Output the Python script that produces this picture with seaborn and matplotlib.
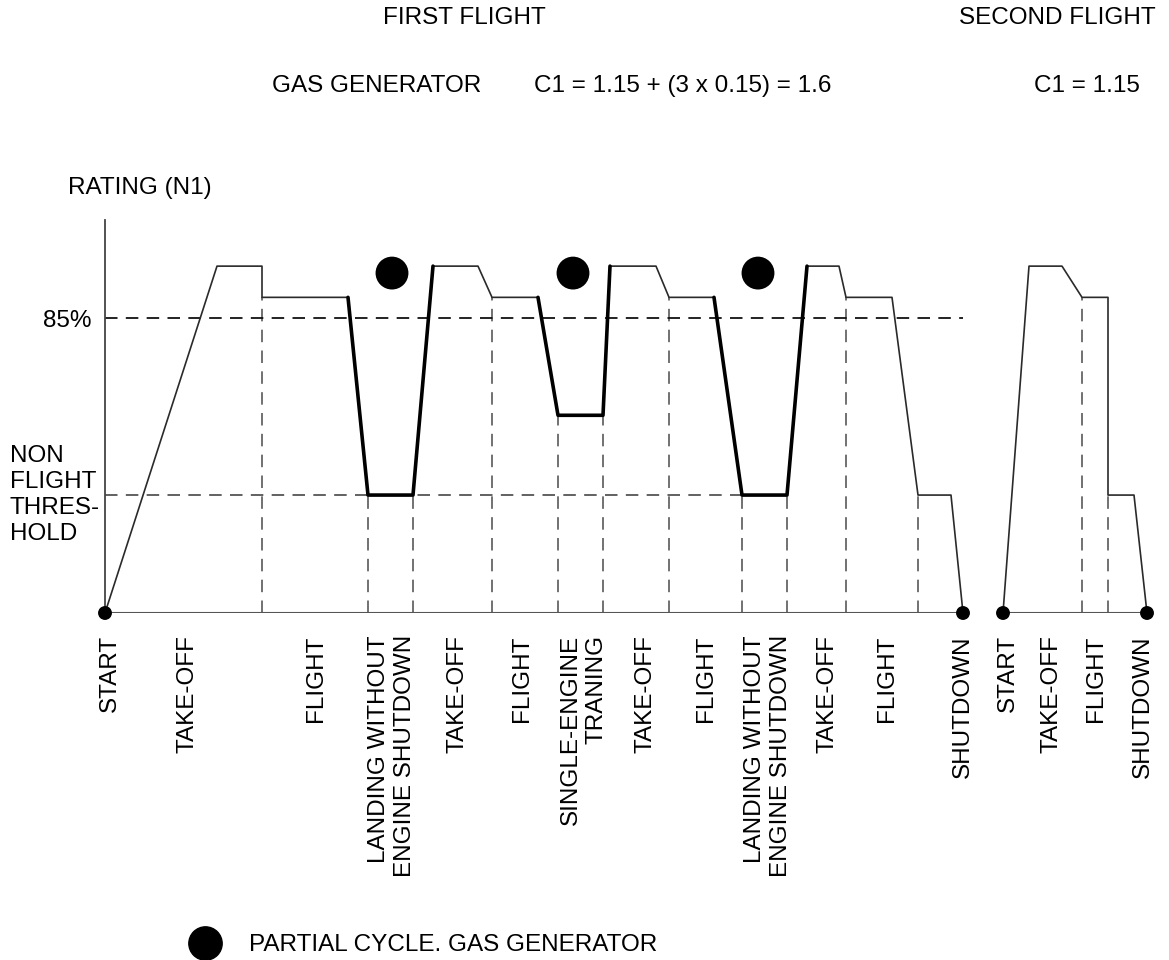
import matplotlib
matplotlib.use('Agg')
import matplotlib.pyplot as plt
import seaborn as sns
import pandas as pd
from matplotlib.lines import Line2D

# engine rating profile (time in arbitrary units, rating N1 in %)
flight1_t = [0, 11.2, 15.7, 15.7, 24.3, 26.3, 30.8, 32.8, 37.3, 38.7, 43.3, 45.3, 49.8,
             50.5, 55.1, 56.4, 60.9, 63.7, 68.2, 70.2, 73.4, 74.1, 78.7, 81.3, 84.6, 85.8]
flight1_n1 = [0, 100, 100, 91, 91, 34, 34, 100, 100, 91, 91, 57, 57,
              100, 100, 91, 91, 34, 34, 100, 100, 91, 91, 34, 34, 0]
# partial cycles (drawn thick): index ranges into flight1
partial_segments = [(4, 7), (10, 13), (16, 19)]

flight2_t = [89.8, 92.4, 95.7, 97.7, 100.3, 100.3, 102.9, 104.2]
flight2_n1 = [0, 100, 100, 91, 91, 34, 34, 0]

# dashed phase separators
sep_t = [15.7, 26.3, 30.8, 38.7, 45.3, 49.8, 56.4, 63.7, 68.2, 74.1, 81.3, 97.7, 100.3]
sep_top = [91, 34, 34, 91, 57, 57, 91, 34, 34, 91, 34, 91, 34]

level_85 = 85
threshold = 34
threshold_end = 63.7

partial_t = [28.7, 46.8, 65.3]
partial_n1 = [98, 98, 98]

start_stop_t = [0, 85.8, 89.8, 104.2]
start_stop_n1 = [0, 0, 0, 0]

phase_t = [0.5, 8.3, 21.1, 28.7, 35.3, 41.7, 47.85, 54.0, 60.1, 66.3, 72.2, 78.2,
           85.8, 90.3, 94.65, 99.15, 103.8]
phase_labels = ['START', 'TAKE-OFF', 'FLIGHT', 'LANDING WITHOUT\nENGINE SHUTDOWN',
                'TAKE-OFF', 'FLIGHT', 'SINGLE-ENGINE\nTRANING', 'TAKE-OFF', 'FLIGHT',
                'LANDING WITHOUT\nENGINE SHUTDOWN', 'TAKE-OFF', 'FLIGHT', 'SHUTDOWN',
                'START', 'TAKE-OFF', 'FLIGHT', 'SHUTDOWN']

sns.set_theme(style='white')
plt.rcParams['font.family'] = ['Liberation Sans', 'DejaVu Sans']
plt.rcParams['text.color'] = 'black'
plt.rcParams['lines.scale_dashes'] = False
fs = 17.5

fig = plt.figure(figsize=(11.69, 9.6), dpi=100)
ax = fig.add_axes([105 / 1169, 1 - 613 / 960, 1055 / 1169, 393 / 960])

f1 = pd.DataFrame({'t': flight1_t, 'n1': flight1_n1})
f2 = pd.DataFrame({'t': flight2_t, 'n1': flight2_n1})

dash = (0, (9, 6))
# guide lines
ax.vlines(sep_t, 0, sep_top, colors='#666666', linestyles=dash, linewidth=1.3, zorder=1)
ax.hlines(level_85, 0, flight1_t[-1], colors='#111111', linestyles=dash, linewidth=1.3, zorder=1)
ax.hlines(threshold, 0, threshold_end, colors='#555555', linestyles=dash, linewidth=1.3, zorder=1)

# baselines
ax.hlines(0, flight1_t[0], flight1_t[-1], colors='#555555', linewidth=1.5, zorder=2)
ax.hlines(0, flight2_t[0], flight2_t[-1], colors='#555555', linewidth=1.5, zorder=2)

# rating profiles
sns.lineplot(data=f1, x='t', y='n1', sort=False, estimator=None, color='#2a2a2a',
             linewidth=1.2, ax=ax, zorder=3)
sns.lineplot(data=f2, x='t', y='n1', sort=False, estimator=None, color='#2a2a2a',
             linewidth=1.2, ax=ax, zorder=3)
for i0, i1 in partial_segments:
    sns.lineplot(data=f1.iloc[i0:i1 + 1], x='t', y='n1', sort=False, estimator=None,
                 color='black', linewidth=2.6, ax=ax, zorder=4)

sns.scatterplot(x=start_stop_t, y=start_stop_n1, s=100, color='black', edgecolor='none',
                ax=ax, zorder=5, clip_on=False)
sns.scatterplot(x=partial_t, y=partial_n1, s=560, color='black', edgecolor='none',
                ax=ax, zorder=5, clip_on=False)

ax.set_xlim(0, 105.5)
ax.set_ylim(0, 113.3)
ax.set_xlabel('')
ax.set_ylabel('')
for side in ['top', 'right', 'bottom']:
    ax.spines[side].set_visible(False)
ax.spines['left'].set_color('#444444')
ax.spines['left'].set_linewidth(1.3)

ax.set_xticks(phase_t)
ax.set_xticklabels(phase_labels, rotation=90, fontsize=fs, color='black')
for lbl in ax.get_xticklabels():
    lbl.set_multialignment('right')
ax.set_yticks([level_85])
ax.set_yticklabels(['85%'], fontsize=fs, color='black')
ax.tick_params(axis='x', length=0, pad=16)
ax.tick_params(axis='y', length=0, pad=10)

ax.text(-95 / 1055, threshold, 'NON\nFLIGHT\nTHRES-\nHOLD',
        transform=ax.get_yaxis_transform(), ha='left', va='center', fontsize=fs,
        linespacing=1.22)

# header texts
def fig_text(x, y, s, **kw):
    fig.text(x / 1169, 1 - y / 960, s, fontsize=fs, va='center', **kw)

fig_text(464, 18, 'FIRST FLIGHT', ha='center')
fig_text(1057, 18, 'SECOND FLIGHT', ha='center')
fig_text(272, 86, 'GAS GENERATOR', ha='left')
fig_text(683, 86, 'C1 = 1.15 + (3 x 0.15) = 1.6', ha='center')
fig_text(1087, 86, 'C1 = 1.15', ha='center')
fig_text(68, 188, 'RATING (N1)', ha='left')

handle = Line2D([], [], marker='o', linestyle='', color='black', markersize=24)
leg = fig.legend(handles=[handle], labels=['PARTIAL CYCLE. GAS GENERATOR'], loc='center left',
                 bbox_to_anchor=(181 / 1169, 1 - 945 / 960), frameon=False, fontsize=fs,
                 borderaxespad=0, borderpad=0)
for txt in leg.get_texts():
    txt.set_color('black')

fig.savefig('out.png', dpi=100)
